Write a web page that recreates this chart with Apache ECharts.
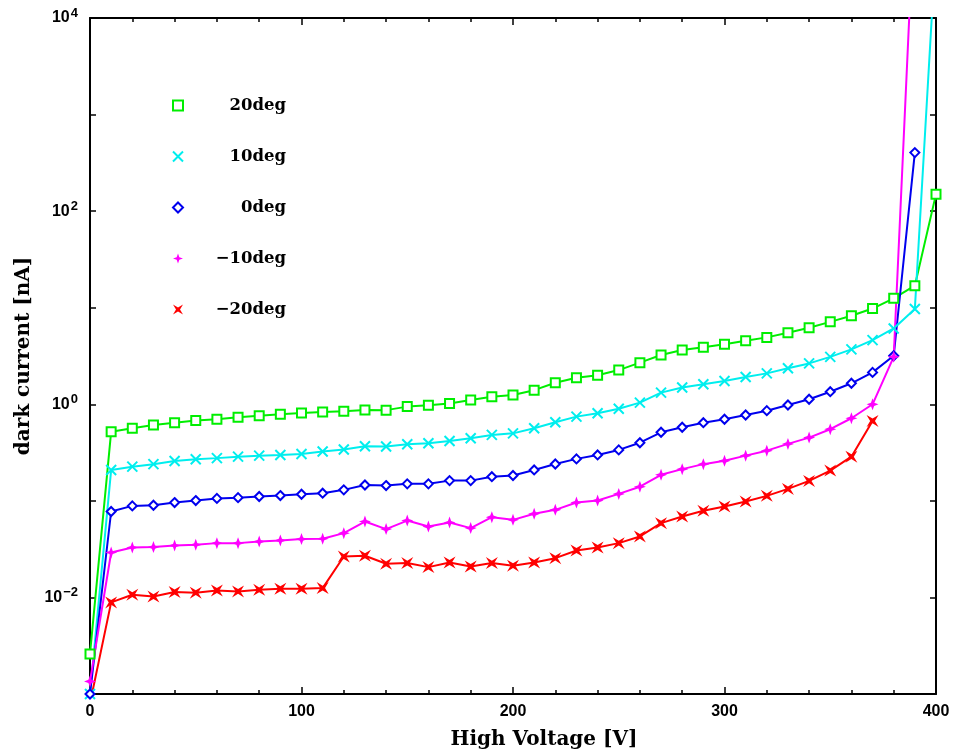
<!DOCTYPE html>
<html>
<head>
<meta charset="utf-8">
<script src="https://cdn.jsdelivr.net/npm/echarts@6/dist/echarts.min.js"></script>
<style>html,body{margin:0;padding:0;background:#fff}#c{width:954px;height:755px}</style>
</head>
<body>
<div id="c"></div>
<script>
const voltages = [0,10,20,30,40,50,60,70,80,90,100,110,120,130,140,150,160,170,180,190,200,210,220,230,240,250,260,270,280,290,300,310,320,330,340,350,360,370,380,390,400];
const seriesNames = ['20deg','10deg','0deg','\u221210deg','\u221220deg'];
const deg20 = [0.0026,0.52,0.565,0.61,0.645,0.68,0.70,0.735,0.76,0.79,0.81,0.83,0.845,0.875,0.87,0.946,0.98,1.02,1.11,1.2,1.25,1.4,1.67,1.88,2.0,2.26,2.7,3.24,3.65,3.89,4.18,4.55,4.93,5.5,6.2,7.14,8.25,9.8,12.5,16.9,150];
const deg10 = [0.001,0.209,0.226,0.24,0.259,0.27,0.277,0.287,0.294,0.299,0.306,0.324,0.34,0.368,0.365,0.386,0.395,0.417,0.445,0.482,0.50,0.565,0.652,0.745,0.807,0.9,1.04,1.32,1.49,1.61,1.74,1.92,2.09,2.36,2.65,3.1,3.7,4.62,6.1,9.7,58000];
const deg0 = [0.001,0.0776,0.0887,0.090,0.096,0.1007,0.106,0.108,0.111,0.1135,0.117,0.12,0.130,0.146,0.144,0.15,0.15,0.162,0.162,0.178,0.183,0.209,0.241,0.272,0.299,0.337,0.40,0.513,0.578,0.645,0.70,0.774,0.859,0.984,1.127,1.35,1.65,2.14,3.18,404,null];
const degM10 = [0.00135,0.0292,0.0329,0.0332,0.0345,0.0351,0.0365,0.0365,0.0379,0.0389,0.0402,0.0405,0.0463,0.0611,0.051,0.0625,0.0542,0.0597,0.0522,0.0678,0.0636,0.0734,0.0807,0.096,0.1007,0.118,0.140,0.186,0.213,0.24,0.26,0.294,0.331,0.389,0.452,0.552,0.717,1.0,3.1,190000,null];
const degM20 = [0.0008,0.00888,0.01067,0.0102,0.01138,0.0112,0.0118,0.01153,0.012,0.0123,0.0123,0.0125,0.0265,0.027,0.0223,0.0227,0.0206,0.023,0.0209,0.0227,0.0213,0.023,0.0255,0.0306,0.0329,0.0365,0.0428,0.0588,0.0688,0.0789,0.0874,0.0984,0.1127,0.133,0.161,0.206,0.287,0.672,null,null,null];
const xTickLabels = ['0','100','200','300','400'];

const allData = [deg20, deg10, deg0, degM10, degM20];
const colors = ['#00ee00','#00eeee','#0000ee','#ff00ff','#ff0000'];
const symbols = [
  'emptyRect',
  'path://M0,0L10,10M10,0L0,10',
  'emptyDiamond',
  'path://M0,-6L1.6,-1.6L6,0L1.6,1.6L0,6L-1.6,1.6L-6,0L-1.6,-1.6Z',
  'path://M-6,-6L0,-2.4L6,-6L2.4,0L6,6L0,2.4L-6,6L-2.4,0Z'
];
const symbolSizes = [9, 10, 9, 12, 12];
const borderW = [1.6, 2, 1.6, 0, 0];

const chart = echarts.init(document.getElementById('c'));
const series = allData.map((d, i) => ({
  name: seriesNames[i],
  type: 'line',
  data: voltages.map((v, k) => [v, d[k]]),
  symbol: symbols[i],
  symbolSize: symbolSizes[i],
  showAllSymbol: true,
  connectNulls: false,
  clip: true,
  lineStyle: { color: colors[i], width: 2 },
  itemStyle: { color: colors[i], borderColor: colors[i], borderWidth: borderW[i] },
  emphasis: { disabled: true },
  z: 2
}));

const supMap = {'-3':'\u22123','-2':'\u22122','-1':'\u22121','0':'0','1':'1','2':'2','3':'3','4':'4'};
chart.setOption({
  animation: false,
  backgroundColor: '#fff',
  grid: { left: 90, right: 18, top: 18, bottom: 60, containLabel: false },
  legend: {
    orient: 'vertical',
    left: 167,
    top: 92,
    itemWidth: 10,
    itemHeight: 10,
    itemGap: 34,
    data: seriesNames.map((n, i) => ({ name: n, icon: symbols[i] })),
    formatter: (n) => '{a|' + n + '}',
    textStyle: {
      color: '#000',
      rich: { a: { fontFamily: 'DejaVu Serif', fontWeight: 'bold', fontSize: 16.5, color: '#000', width: 98, align: 'right' } }
    },
    selectedMode: false
  },
  xAxis: [{
    type: 'value', min: 0, max: 400, interval: 100,
    name: 'High Voltage [V]', nameLocation: 'middle', nameGap: 36,
    nameTextStyle: { fontFamily: 'DejaVu Serif', fontWeight: 'bold', fontSize: 20, color: '#000', padding: [0, 0, 0, 62] },
    axisLine: { show: true, onZero: false, lineStyle: { color: '#000', width: 2 } },
    axisTick: { show: true, inside: true, length: 7, lineStyle: { color: '#000', width: 1.5 } },
    minorTick: { show: true, splitNumber: 5, length: 4, lineStyle: { color: '#000', width: 1.5 } },
    axisLabel: { color: '#000', fontFamily: 'Liberation Sans', fontWeight: 'bold', fontSize: 16, margin: 10,
      formatter: (v) => xTickLabels[Math.round(v / 100)] },
    splitLine: { show: false }
  }, {
    type: 'value', min: 0, max: 400, interval: 100, position: 'top',
    axisLine: { show: true, onZero: false, lineStyle: { color: '#000', width: 2 } },
    axisTick: { show: true, inside: true, length: 7, lineStyle: { color: '#000', width: 1.5 } },
    minorTick: { show: true, splitNumber: 5, length: 4, lineStyle: { color: '#000', width: 1.5 } },
    axisLabel: { show: false }, splitLine: { show: false }
  }],
  yAxis: [{
    type: 'log', logBase: 10, min: 0.001, max: 10000, interval: 1,
    name: 'dark current [nA]', nameLocation: 'middle', nameGap: 54,
    nameTextStyle: { fontFamily: 'DejaVu Serif', fontWeight: 'bold', fontSize: 20, color: '#000' },
    axisLine: { show: true, onZero: false, lineStyle: { color: '#000', width: 2 } },
    axisTick: { show: true, inside: true, length: 6, lineStyle: { color: '#000', width: 1.5 } },
    axisLabel: {
      color: '#000', margin: 12,
      formatter: (v) => {
        const e = Math.round(Math.log10(v));
        if (e % 2 !== 0) return '';
        return '{b|10}{s|' + supMap[String(e)] + '}';
      },
      rich: {
        b: { fontFamily: 'Liberation Sans', fontWeight: 'bold', fontSize: 16, color: '#000' },
        s: { fontFamily: 'Liberation Sans', fontWeight: 'bold', fontSize: 13, color: '#000', verticalAlign: 'bottom', padding: [0, 0, 10, 1] }
      }
    },
    splitLine: { show: false }
  }, {
    type: 'log', logBase: 10, min: 0.001, max: 10000, interval: 1, position: 'right',
    axisLine: { show: true, onZero: false, lineStyle: { color: '#000', width: 2 } },
    axisTick: { show: true, inside: true, length: 6, lineStyle: { color: '#000', width: 1.5 } },
    axisLabel: { show: false }, splitLine: { show: false }
  }],
  series: series
});
</script>
</body>
</html>
